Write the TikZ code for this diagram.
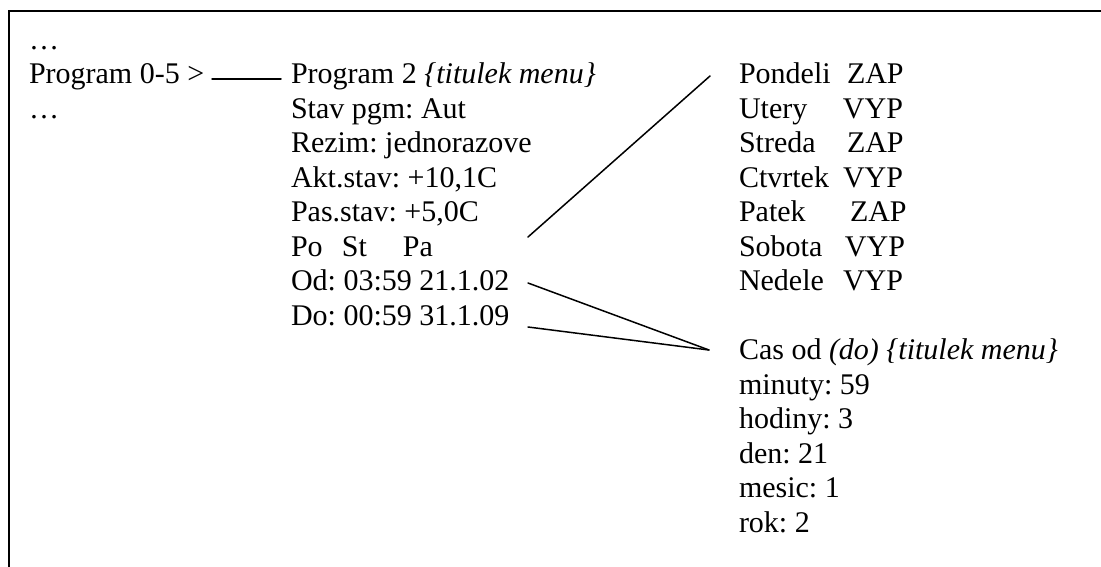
\documentclass[tikz,border=0pt]{standalone}
\usepackage{fontspec}
\setmainfont{Liberation Serif}
\frenchspacing
\begin{document}
\begin{tikzpicture}[x=0.4pt,y=-0.4pt,
  txt/.style={anchor=base west,inner sep=0pt,outer sep=0pt,font=\fontsize{12pt}{13.8pt}\selectfont\frenchspacing},
  conn/.style={line width=0.6pt,line cap=round},
  frame/.style={line width=0.8pt}]
\useasboundingbox (0,0) rectangle (1101,567);
% frame (top and left edges only)
\coordinate (ftl) at (9,11);
\coordinate (ftr) at (1101,11);
\coordinate (fbl) at (9,567);
\draw[frame] (ftr) -- (ftl) -- (fbl);
% left column
\node[txt] (l0) at (29,49) {…};
\node[txt] (l1) at (29,83.5) {Program 0-5 >};
\node[txt] (l2) at (29,118) {…};
% middle column
\node[txt] (m1) at (291,83.5) {Program 2 \textit{\{titulek menu\}}};
\node[txt] (m2) at (291,118) {Stav pgm: Aut};
\node[txt] (m3) at (291,152.5) {Rezim: jednorazove};
\node[txt] (m4) at (291,187) {Akt.stav: +10,1C};
\node[txt] (m5) at (291,221.5) {Pas.stav: +5,0C};
\node[txt] (m6) at (291,256) {\makebox[20.4pt][l]{Po}\makebox[24.4pt][l]{St}Pa};
\node[txt] (m7) at (291,290.5) {Od: 03:59 21.1.02};
\node[txt] (m8) at (291,325) {Do: 00:59 31.1.09};
% right column: days
\node[txt] (d1) at (739,83.5) {\makebox[43.2pt][l]{Pondeli}ZAP};
\node[txt] (d2) at (739,118) {\makebox[41.6pt][l]{Utery}VYP};
\node[txt] (d3) at (739,152.5) {\makebox[43.2pt][l]{Streda}ZAP};
\node[txt] (d4) at (739,187) {\makebox[41.6pt][l]{Ctvrtek}VYP};
\node[txt] (d5) at (739,221.5) {\makebox[44.4pt][l]{Patek}ZAP};
\node[txt] (d6) at (739,256) {\makebox[42.4pt][l]{Sobota}VYP};
\node[txt] (d7) at (739,290.5) {\makebox[41.6pt][l]{Nedele}VYP};
% right column: time menu
\node[txt] (c0) at (739,359.5) {Cas od \textit{(do) \{titulek menu\}}};
\node[txt] (c1) at (739,394) {minuty: 59};
\node[txt] (c2) at (739,428.5) {hodiny: 3};
\node[txt] (c3) at (739,463) {den: 21};
\node[txt] (c4) at (739,497.5) {mesic: 1};
\node[txt] (c5) at (739,532) {rok: 2};
% connector end points
\coordinate (pA) at (212,79);
\coordinate (pB) at (281,79);
\coordinate (dA) at (528,237);
\coordinate (dB) at (710,76);
\coordinate (oA) at (528,283);
\coordinate (tA) at (528,327);
\coordinate (cJ) at (709,350);
% connectors
\draw[conn] (pA) -- (pB);
\draw[conn] (dA) -- (dB);
\draw[conn] (oA) -- (cJ);
\draw[conn] (tA) -- (cJ);
\end{tikzpicture}
\end{document}
